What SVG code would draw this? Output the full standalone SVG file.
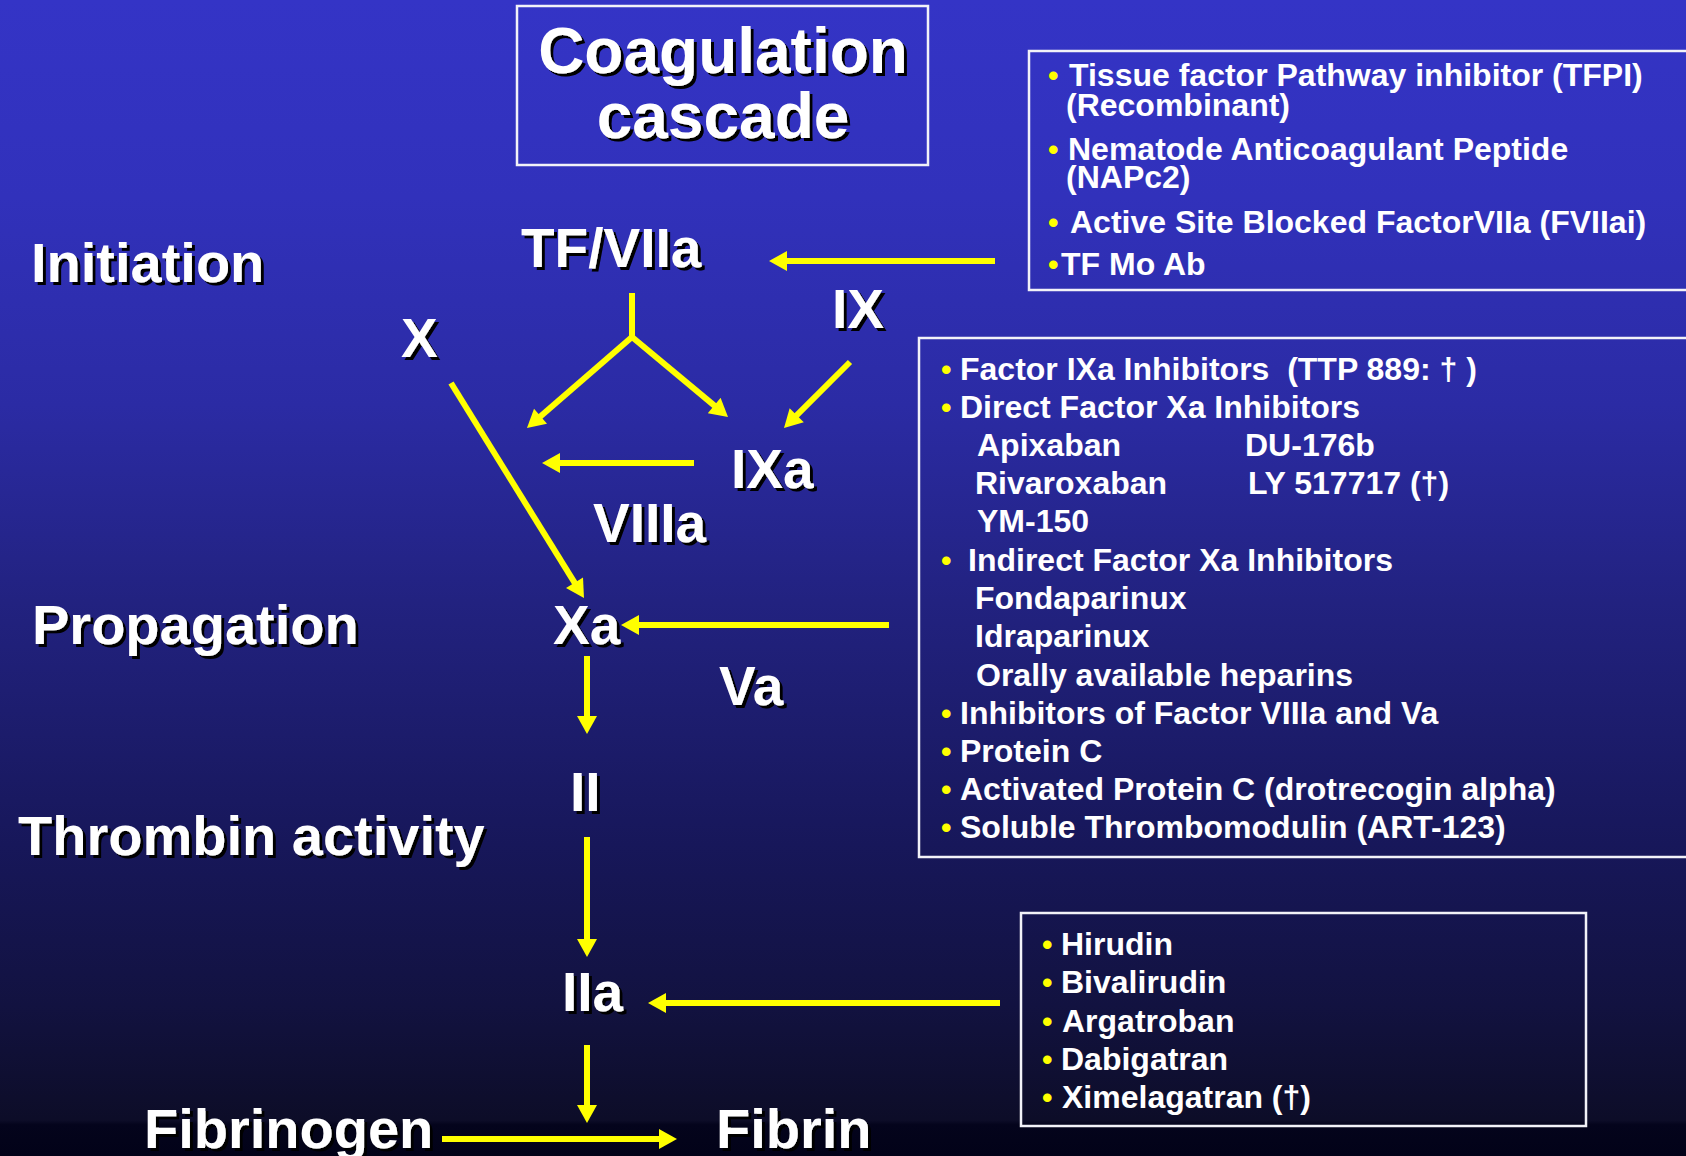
<svg xmlns="http://www.w3.org/2000/svg" width="1686" height="1156" viewBox="0 0 1686 1156">
<style>
.lbl{font-family:"Liberation Sans",Arial,sans-serif;font-weight:bold;fill:#fff;filter:url(#sh)}
.t{font-family:"Liberation Sans",Arial,sans-serif;font-weight:bold;fill:#fff;font-size:32px;white-space:pre}
.b{font-family:"Liberation Sans",Arial,sans-serif;font-weight:bold;fill:#ffff00;font-size:30px}
.box{fill:none;stroke:#f2f2f8;stroke-width:2.5}
.arr{stroke:#ffff00;stroke-width:6;fill:none}
.ah{marker-end:url(#head)}
</style>
<defs>
<linearGradient id="bg" gradientUnits="userSpaceOnUse" x1="0" y1="0" x2="0" y2="1156">
<stop offset="0" stop-color="#3434c6"/>
<stop offset="0.17" stop-color="#3131bb"/>
<stop offset="0.35" stop-color="#2b2ba4"/>
<stop offset="0.52" stop-color="#222280"/>
<stop offset="0.73" stop-color="#17175a"/>
<stop offset="0.87" stop-color="#121240"/>
<stop offset="0.969" stop-color="#0d0d28"/>
<stop offset="0.973" stop-color="#04041c"/>
<stop offset="1" stop-color="#020218"/>
</linearGradient>
<filter id="sh" x="-10%" y="-10%" width="130%" height="130%">
<feDropShadow dx="3" dy="3" stdDeviation="0.6" flood-color="#000" flood-opacity="1"/>
</filter>
<marker id="head" markerUnits="userSpaceOnUse" markerWidth="20" markerHeight="20" viewBox="0 0 18 20" refX="3" refY="10" orient="auto">
<path d="M0,0 L18,10 L0,20 z" fill="#ffff00"/>
</marker>
</defs>
<rect x="0" y="0" width="1686" height="1156" fill="url(#bg)"/>

<g id="title">
<rect class="box" x="517" y="6" width="411" height="159"/>
<text class="lbl" x="723" y="73" font-size="64" text-anchor="middle">Coagulation</text>
<text class="lbl" x="723" y="138" font-size="64" text-anchor="middle">cascade</text>
</g>

<g id="stage-labels">
<text id="initiation" class="lbl" x="31" y="282" font-size="56">Initiation</text>
<text id="propagation" class="lbl" x="32" y="644" font-size="56">Propagation</text>
<text id="thrombin-activity" class="lbl" x="18" y="855" font-size="56">Thrombin activity</text>
</g>

<g id="node-tfviia"><text class="lbl" x="521" y="267" font-size="55">TF/VIIa</text></g>
<g id="node-x"><text class="lbl" x="401" y="357" font-size="55">X</text></g>
<g id="node-ix"><text class="lbl" x="832" y="328" font-size="55">IX</text></g>
<g id="node-ixa"><text class="lbl" x="731" y="488" font-size="55">IXa</text></g>
<g id="node-viiia"><text class="lbl" x="593" y="542" font-size="55">VIIIa</text></g>
<g id="node-xa"><text class="lbl" x="553" y="644" font-size="55">Xa</text></g>
<g id="node-va"><text class="lbl" x="719" y="705" font-size="55">Va</text></g>
<g id="node-ii"><text class="lbl" x="570" y="811" font-size="55">II</text></g>
<g id="node-iia"><text class="lbl" x="562" y="1011" font-size="55">IIa</text></g>
<g id="node-fibrinogen"><text class="lbl" x="144" y="1148" font-size="56">Fibrinogen</text></g>
<g id="node-fibrin"><text class="lbl" x="716" y="1148" font-size="56">Fibrin</text></g>

<g id="box-tf-inhibitors">
<rect class="box" x="1029" y="51" width="680" height="239"/>
<text class="b" x="1048" y="86">•</text>
<text class="t" x="1069" y="86">Tissue factor Pathway inhibitor (TFPI)</text>
<text class="t" x="1066" y="116">(Recombinant)</text>
<text class="b" x="1048" y="160">•</text>
<text class="t" x="1068" y="160">Nematode Anticoagulant Peptide</text>
<text class="t" x="1066" y="188">(NAPc2)</text>
<text class="b" x="1048" y="233">•</text>
<text class="t" x="1070" y="233">Active Site Blocked FactorVIIa (FVIIai)</text>
<text class="t" y="275"><tspan class="b" x="1048">•</tspan><tspan x="1061">TF Mo Ab</tspan></text>
</g>

<g id="box-xa-inhibitors">
<rect class="box" x="919" y="338" width="790" height="519"/>
<text class="b" x="941" y="380">•</text>
<text class="t" x="960" y="380">Factor IXa Inhibitors  (TTP 889: † )</text>
<text class="b" x="941" y="418">•</text>
<text class="t" x="960" y="418">Direct Factor Xa Inhibitors</text>
<text class="t" x="977" y="456">Apixaban</text>
<text class="t" x="1245" y="456">DU-176b</text>
<text class="t" x="975" y="494">Rivaroxaban</text>
<text class="t" x="1248" y="494">LY 517717 (†)</text>
<text class="t" x="977" y="532">YM-150</text>
<text class="b" x="941" y="571">•</text>
<text class="t" x="968" y="571">Indirect Factor Xa Inhibitors</text>
<text class="t" x="975" y="609">Fondaparinux</text>
<text class="t" x="975" y="647">Idraparinux</text>
<text class="t" x="976" y="686">Orally available heparins</text>
<text class="b" x="941" y="724">•</text>
<text class="t" x="960" y="724">Inhibitors of Factor VIIIa and Va</text>
<text class="b" x="941" y="762">•</text>
<text class="t" x="960" y="762">Protein C</text>
<text class="b" x="941" y="800">•</text>
<text class="t" x="960" y="800">Activated Protein C (drotrecogin alpha)</text>
<text class="b" x="941" y="838">•</text>
<text class="t" x="960" y="838">Soluble Thrombomodulin (ART-123)</text>
</g>

<g id="box-thrombin-inhibitors">
<rect class="box" x="1021" y="913" width="565" height="213"/>
<text class="b" x="1042" y="955">•</text>
<text class="t" x="1061" y="955">Hirudin</text>
<text class="b" x="1042" y="993">•</text>
<text class="t" x="1061" y="993">Bivalirudin</text>
<text class="b" x="1042" y="1032">•</text>
<text class="t" x="1062" y="1032">Argatroban</text>
<text class="b" x="1042" y="1070">•</text>
<text class="t" x="1061" y="1070">Dabigatran</text>
<text class="b" x="1042" y="1108">•</text>
<text class="t" x="1062" y="1108">Ximelagatran (†)</text>
</g>

<g id="connectors">
<line class="arr ah" x1="995" y1="261" x2="784" y2="261"/>
<line class="arr" x1="632" y1="293" x2="632" y2="339"/>
<line class="arr ah" x1="632" y1="337" x2="538.3" y2="418.2"/>
<line class="arr ah" x1="632" y1="337" x2="716.5" y2="407.4"/>
<line class="arr ah" x1="850" y1="362" x2="794.6" y2="417.4"/>
<line class="arr ah" x1="694" y1="463" x2="557" y2="463"/>
<line class="arr ah" x1="451" y1="383" x2="576.1" y2="585.2"/>
<line class="arr ah" x1="889" y1="625" x2="636" y2="625"/>
<line class="arr ah" x1="587" y1="656" x2="587" y2="719"/>
<line class="arr ah" x1="587" y1="837" x2="587" y2="942"/>
<line class="arr ah" x1="1000" y1="1003" x2="663" y2="1003"/>
<line class="arr ah" x1="587" y1="1045" x2="587" y2="1108"/>
<line class="arr ah" x1="442" y1="1139" x2="662" y2="1139"/>
</g>
</svg>
